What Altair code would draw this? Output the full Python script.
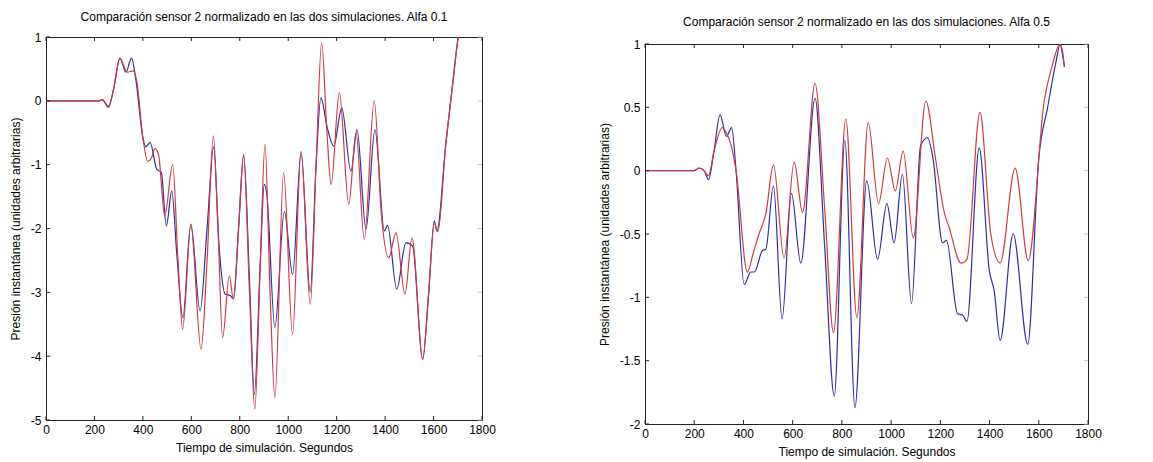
import altair as alt
import pandas as pd

FONT = "Liberation Sans"
BLUE = "#2e2ea8"
RED = "#d23c3c"
BOX = "#222222"

TITLE_L = "Comparación sensor 2 normalizado en las dos simulaciones. Alfa 0.1"
TITLE_R = "Comparación sensor 2 normalizado en las dos simulaciones. Alfa 0.5"
XTITLE = "Tiempo de simulación. Segundos"
YTITLE = "Presión instantánea (unidades arbitrarias)"

XTICKS = [0, 200, 400, 600, 800, 1000, 1200, 1400, 1600, 1800]
YTICKS_L = [-5, -4, -3, -2, -1, 0, 1]
YTICKS_R = [-2, -1.5, -1, -0.5, 0, 0.5, 1]

# Left panel (Alfa 0.1)
L_BLUE_T = [0, 200, 220, 232, 258, 280, 305, 330, 353, 372, 400, 412, 430, 457, 476, 497, 519, 540, 565,
            598, 636, 665, 692, 715, 740, 760, 775, 795, 816, 840, 860, 885, 901, 911, 945, 984, 1018,
            1053, 1091, 1115, 1135, 1160, 1188, 1221, 1259, 1284, 1321, 1358, 1397, 1410, 1448, 1486,
            1514, 1555, 1580, 1603, 1614, 1650, 1680, 1702, 1712]
L_BLUE_V = [0, 0, 0, 0.02, -0.1, 0.2, 0.67, 0.45, 0.67, 0.3, -0.58, -0.72, -0.65, -1.07, -1.12, -1.96, -1.41,
            -2.4, -3.4, -1.93, -3.29, -2.0, -0.72, -2.3, -3.03, -3.05, -3.1, -2.0, -0.85, -2.8, -4.6, -2.5,
            -1.31, -1.44, -3.55, -1.73, -2.72, -0.81, -3.0, -1.0, 0.05, -0.4, -0.71, -0.11, -1.1, -0.45,
            -2.01, -0.45, -2.04, -1.95, -2.95, -2.22, -2.28, -4.05, -3.0, -1.88, -2.04, -0.7, 0.3, 1.0, 1.2]

L_RED_T = [0, 200, 220, 232, 258, 280, 305, 335, 360, 375, 400, 420, 435, 450, 465, 490, 523, 545, 564,
           598, 640, 665, 691, 710, 729, 757, 773, 795, 816, 840, 862, 885, 904, 925, 945, 981, 1018,
           1053, 1091, 1115, 1138, 1160, 1177, 1211, 1250, 1280, 1314, 1355, 1385, 1415, 1445, 1482,
           1511, 1555, 1580, 1603, 1618, 1650, 1680, 1702, 1712]
L_RED_V = [0, 0, 0, 0.02, -0.08, 0.2, 0.67, 0.45, 0.47, 0.3, -0.58, -0.95, -0.9, -0.75, -0.85, -1.8, -1.0,
           -2.5, -3.58, -1.95, -3.89, -2.5, -0.55, -2.0, -3.71, -2.74, -3.1, -2.0, -0.84, -3.0, -4.83, -2.5,
           -0.68, -3.0, -4.65, -1.13, -3.66, -0.79, -3.19, -1.0, 0.91, -0.5, -1.31, 0.13, -1.62, -0.5,
           -2.17, 0.0, -1.8, -2.46, -2.07, -3.03, -2.15, -4.05, -3.0, -1.92, -2.05, -0.7, 0.3, 1.0, 1.2]

# Right panel (Alfa 0.5)
R_BLUE_T = [0, 199, 220, 240, 258, 280, 305, 331, 352, 370, 403, 430, 445, 477, 491, 522, 557, 595, 633,
            691, 730, 769, 812, 853, 901, 945, 983, 1012, 1046, 1083, 1120, 1148, 1170, 1209, 1225, 1270,
            1290, 1308, 1358, 1399, 1419, 1443, 1496, 1555, 1600, 1636, 1669, 1687, 1696, 1704]
R_BLUE_V = [0, 0, 0.02, 0.0, -0.07, 0.15, 0.44, 0.27, 0.34, 0.0, -0.9, -0.8, -0.8, -0.63, -0.62, -0.12,
            -1.17, -0.18, -0.73, 0.57, -0.6, -1.78, 0.24, -1.87, -0.08, -0.7, -0.26, -0.57, -0.03, -1.05,
            0.2, 0.26, 0.1, -0.57, -0.55, -1.13, -1.14, -1.19, 0.18, -0.79, -0.95, -1.34, -0.5, -1.37, 0.1,
            0.5, 0.85, 1.0, 0.92, 0.82]

R_RED_T = [0, 199, 220, 240, 258, 280, 314, 330, 350, 370, 416, 440, 463, 491, 522, 565, 606, 640, 691,
           730, 766, 816, 861, 907, 949, 985, 1017, 1049, 1090, 1141, 1180, 1216, 1236, 1284, 1308, 1361,
           1405, 1443, 1504, 1557, 1622, 1656, 1686, 1696, 1704]
R_RED_V = [0, 0, 0.02, 0.0, -0.04, 0.15, 0.34, 0.3, 0.2, 0.0, -0.8, -0.65, -0.5, -0.34, 0.045, -0.69, 0.07,
           -0.33, 0.69, -0.3, -1.28, 0.41, -1.16, 0.38, -0.26, 0.1, -0.16, 0.155, -0.53, 0.55, 0.1, -0.33,
           -0.45, -0.73, -0.7, 0.46, -0.5, -0.73, 0.02, -0.71, 0.55, 0.84, 1.0, 0.95, 0.82]


def panel(title, bt, bv, rt, rv, ydom, yticks, w, h, toff):
    xs = alt.Scale(domain=[0, 1800], nice=False, zero=False)
    ys = alt.Scale(domain=ydom, nice=False, zero=False)
    x_axis = alt.Axis(values=XTICKS, ticks=False, domain=False, grid=False, labelPadding=4,
                      titlePadding=7, title=XTITLE, labelFlush=False, labelExpr="datum.value + ''")
    y_axis = alt.Axis(values=yticks, ticks=False, domain=False, grid=False, labelPadding=5,
                      titlePadding=8, title=YTITLE, labelFlush=False, labelExpr="datum.value + ''")
    X = alt.X("t:Q", scale=xs, axis=x_axis)
    Y = alt.Y("v:Q", scale=ys, axis=y_axis)
    blue = alt.Chart(pd.DataFrame({"t": bt, "v": bv})).mark_line(
        color=BLUE, strokeWidth=1.2, interpolate="monotone", clip=True
    ).encode(x=X, y=Y)
    red = alt.Chart(pd.DataFrame({"t": rt, "v": rv})).mark_line(
        color=RED, strokeWidth=1.2, interpolate="monotone", clip=True
    ).encode(x=X, y=Y)
    xt = pd.DataFrame({"t": XTICKS})
    yt = pd.DataFrame({"v": yticks})
    tb = alt.Chart(xt).mark_rule(color=BOX).encode(x=X, y=alt.value(h), y2=alt.value(h - 4))
    tt = alt.Chart(xt).mark_rule(color=BOX).encode(x=X, y=alt.value(0), y2=alt.value(4))
    tl = alt.Chart(yt).mark_rule(color=BOX).encode(y=Y, x=alt.value(0), x2=alt.value(4))
    tr = alt.Chart(yt).mark_rule(color="#c8c8c8").encode(y=Y, x=alt.value(w - 4), x2=alt.value(w))
    return alt.layer(blue, red, tb, tt, tl, tr).properties(
        width=w, height=h,
        title=alt.TitleParams(title, offset=toff, fontSize=12, fontWeight="normal", font=FONT,
                              color="black", anchor="middle"),
        view=alt.ViewBackground(stroke=BOX, strokeWidth=1),
    )


left = panel(TITLE_L, L_BLUE_T, L_BLUE_V, L_RED_T, L_RED_V, [-5, 1], YTICKS_L, 436, 383, 7)
right_p = panel(TITLE_R, R_BLUE_T, R_BLUE_V, R_RED_T, R_RED_V, [-2, 1], YTICKS_R, 443, 380, 9)

spacer = alt.Chart(pd.DataFrame({"t": [0]})).mark_point(opacity=0).encode(
    x=alt.value(0), y=alt.value(0)
).properties(width=443, height=1, view=alt.ViewBackground(stroke="transparent"))

right = alt.vconcat(spacer, right_p, spacing=6, bounds="flush")

chart = alt.hconcat(left, right, spacing=163, bounds="flush").properties(
    padding={"left": 8, "top": 10, "right": 5, "bottom": 5},
    background="white",
).configure_axis(
    labelFont=FONT, titleFont=FONT, labelFontSize=12, titleFontSize=12,
    titleFontWeight="normal", labelColor="black", titleColor="black",
).configure_view(strokeWidth=1)

chart.save("out.html", embed_options={"renderer": "svg", "actions": False})
